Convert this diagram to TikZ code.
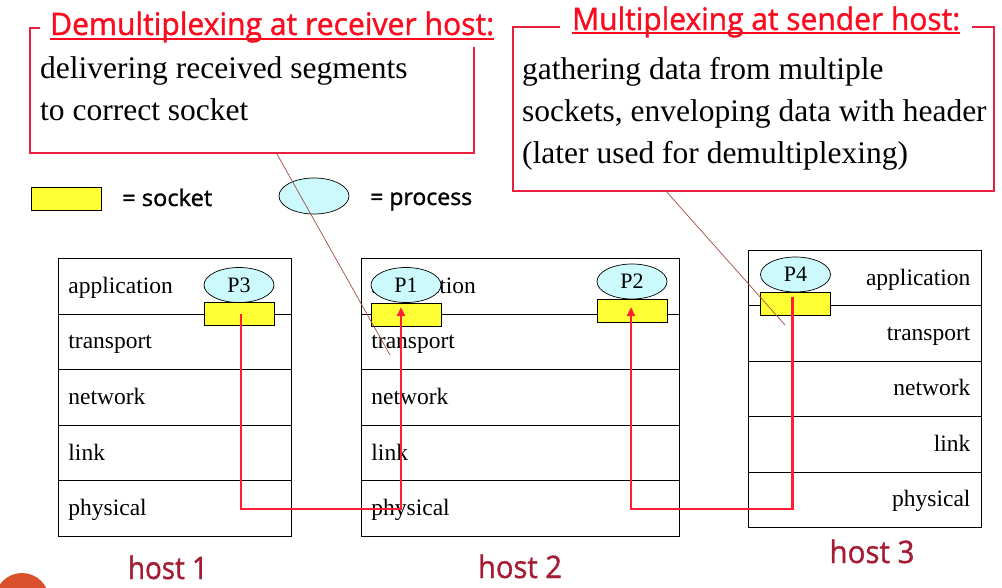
\documentclass[tikz,border=0pt]{standalone}
\usepackage{fontspec}
\usepackage{graphicx}
\setmainfont{Liberation Serif}
\newfontfamily\comicf[FakeBold=1.2]{Open Sans}
\usetikzlibrary{shapes.geometric,arrows.meta,calc}
\definecolor{boxred}{RGB}{232,32,63}
\definecolor{titlered}{RGB}{250,12,32}
\definecolor{flowred}{RGB}{255,30,50}
\definecolor{hostred}{RGB}{165,29,53}
\definecolor{procfill}{RGB}{204,250,252}
\definecolor{sockfill}{RGB}{255,255,51}
\definecolor{pointcol}{RGB}{165,75,70}
\definecolor{blob}{RGB}{217,80,42}
\newcommand{\fitw}[2]{\resizebox{#1}{\height}{#2}}
\begin{document}
\begin{tikzpicture}[x=1pt,y=-1pt,
  infobox/.style={draw=boxred,line width=1.6pt,anchor=north west,inner sep=0pt},
  titlenode/.style={fill=white,inner xsep=10pt,inner ysep=5pt,text=titlered,font=\comicf\fontsize{31}{36}\selectfont},
  bodytext/.style={anchor=base west,inner sep=0pt,font=\fontsize{31.5}{40}\selectfont},
  legendtext/.style={anchor=base west,inner sep=0pt,font=\comicf\fontsize{23}{28}\selectfont},
  hosttext/.style={anchor=base,inner sep=0pt,text=hostred,font=\comicf\fontsize{31}{36}\selectfont},
  layerl/.style={draw=black,line width=0.9pt,anchor=north west,minimum height=55.6pt,inner xsep=10pt,inner ysep=0pt,text height=15pt,text depth=1pt,align=left,font=\fontsize{23.5}{28}\selectfont},
  layerr/.style={draw=black,line width=0.9pt,anchor=north west,minimum height=55.4pt,inner xsep=11pt,inner ysep=0pt,text height=15pt,text depth=1pt,align=right,text width=211pt,font=\fontsize{23.5}{28}\selectfont},
  proc/.style={ellipse,draw=black,line width=0.7pt,fill=procfill,minimum width=70pt,minimum height=35pt,inner sep=0pt,font=\fontsize{22}{26}\selectfont},
  sock/.style={rectangle,draw=black,line width=0.8pt,fill=sockfill,minimum width=70pt,minimum height=23pt,inner sep=0pt},
  flow/.style={draw=flowred,line width=2.4pt,-{Triangle[length=9pt,width=8pt]}},
  pointer/.style={draw=pointcol,line width=0.7pt}
]
\useasboundingbox (0,0) rectangle (1002,587);
\fill[white] (0,0) rectangle (1002,587);

% info boxes
\node[infobox,minimum width=444pt,minimum height=125pt] (box1) at (29,27) {};
\node[infobox,minimum width=481pt,minimum height=164pt] (box2) at (512,26) {};
\node[titlenode,anchor=base west] (t1) at (40,35) {\fitw{444pt}{Demultiplexing at receiver host:}};
\draw[titlered,line width=1.5pt] ($(t1.base west)+(10,4)$) -- ($(t1.base east)+(-10,4)$);
\node[titlenode,anchor=base west,inner xsep=12pt] (t2) at (560,30) {\fitw{388pt}{Multiplexing at sender host:}};
\draw[titlered,line width=1.5pt] ($(t2.base west)+(12,3)$) -- ($(t2.base east)+(-12,3)$);
\node[bodytext] (d1) at (40,78) {delivering received segments};
\node[bodytext] (d2) at (40,120) {to correct socket};
\node[bodytext] (m1) at (522,79) {gathering data from multiple};
\node[bodytext] (m2) at (522,121) {sockets, enveloping data with header};
\node[bodytext] (m3) at (522,163) {(later used for demultiplexing)};

% legend
\node[sock] (ls) at (66,198.5) {};
\node[legendtext] (lst) at (122,206) {\fitw{90pt}{= socket}};
\node[proc,minimum height=36pt] (lp) at (314,196) {};
\node[legendtext] (lpt) at (370,205) {\fitw{102pt}{= process}};

% host 1
\foreach \lab [count=\i from 0] in {application,transport,network,link,physical}
  \node[layerl,text width=213pt] (h1-\i) at (58,258+55.6*\i) {\lab};
% host 2
\foreach \lab [count=\i from 0] in {application,transport,network,link,physical}
  \node[layerl,text width=298pt] (h2-\i) at (361,258+55.6*\i) {\lab};
% host 3
\foreach \lab [count=\i from 0] in {application,transport,network,link,physical}
  \node[layerr] (h3-\i) at (748,250+55.4*\i) {\lab};

% sockets and processes
\node[sock] (s3) at (239,314) {};
\node[proc] (p3) at (239,285) {P3};
\node[sock] (s1) at (406,315) {};
\node[proc] (p1) at (406,285) {P1};
\node[sock] (s2) at (632,311) {};
\node[proc] (p2) at (632,281.5) {P2};
\node[sock] (s4) at (795.5,304) {};
\node[proc] (p4) at (795.5,274.5) {P4};

% flows
\coordinate (bot) at (0,509);
\draw[flow] ([xshift=2pt]s3.center) -- ([xshift=2pt]s3.center |- bot) -| ([xshift=-5pt,yshift=8pt]s1.center);
\draw[flow] ([xshift=-3pt,yshift=7pt]s4.center) -- ([xshift=-3pt]s4.center |- bot) -| ([xshift=-1pt,yshift=4pt]s2.center);

% pointers
\coordinate (pa) at (390,355);
\coordinate (pb) at (785,325);
\draw[pointer] ($(box1.south west)!0.556!(box1.south east)$) -- (pa);
\draw[pointer] ($(box2.south west)!0.32!(box2.south east)$) -- (pb);

% host labels
\node[hosttext] (hl1) at (168,579) {\fitw{80pt}{host 1}};
\node[hosttext] (hl2) at (520,578) {\fitw{84pt}{host 2}};
\node[hosttext] (hl3) at (872,563) {\fitw{85pt}{host 3}};

% corner blob
\begin{scope}
\clip (0,0) rectangle (1002,587);
\fill[blob] (22,600) circle[radius=27pt];
\end{scope}
\end{tikzpicture}
\end{document}
